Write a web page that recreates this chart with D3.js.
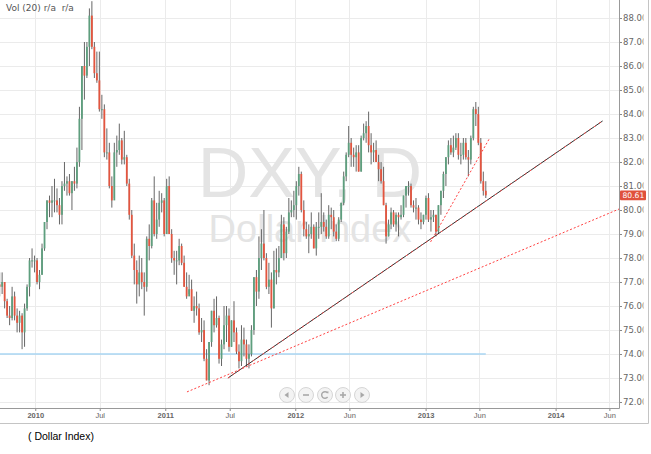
<!DOCTYPE html>
<html><head><meta charset="utf-8">
<script src="https://cdnjs.cloudflare.com/ajax/libs/d3/7.8.5/d3.min.js"></script>
<style>
html,body{margin:0;padding:0;background:#fff;}
svg{display:block;font-family:"Liberation Sans",Arial,sans-serif;}
</style></head><body>
<svg id="c" width="651" height="454"></svg>
<script>
// ---- DATA (weekly candles; [high, low, close]) ----
const firstWeek = "2009-09-21";
const firstOpen = 76.9;
const hlc2009 = [[77.4,76.4,76.8],[77.4,76.5,77.0],[77.0,75.9,76.2],[76.3,75.5,75.6],[76.0,75.2,75.5],[76.8,75.4,76.4],[76.6,75.4,75.6],[75.9,74.9,75.3],[75.8,74.9,75.6],[75.7,74.2,74.9],[76.1,74.3,75.9],[76.9,75.8,76.8],[78.0,76.4,77.9],[78.4,77.6,77.9],[78.1,77.4,77.9]];
const hlc2010 = [[78.0,76.9,77.0],[77.5,76.7,77.3],[78.6,77.3,78.4],[79.5,78.3,79.5],[80.4,79.2,80.4],[80.6,79.7,80.3],[81.0,79.7,80.4],[81.3,79.9,80.4],[80.9,79.9,80.2],[80.5,79.4,79.8],[81.2,79.4,81.0],[82.0,80.8,81.1],[81.4,80.6,81.2],[81.5,80.6,80.7],[81.2,80.0,81.2],[81.8,80.8,81.1],[82.6,80.9,82.0],[84.3,81.8,83.8],[86.0,82.5,86.0],[87.0,84.6,85.6],[87.0,85.5,86.8],[88.4,86.0,88.1],[88.7,86.7,86.8],[87.0,85.5,85.7],[86.6,85.3,85.4],[86.6,84.1,84.2],[84.8,83.8,84.2],[84.4,82.2,82.4],[83.4,82.1,82.4],[82.8,80.9,81.0],[81.4,80.1,80.4],[82.8,80.5,82.4],[83.1,81.8,82.5],[83.6,82.3,82.9],[83.0,81.9,82.1],[83.3,81.9,82.2],[82.3,81.0,81.1],[81.3,79.6,79.8],[80.0,78.0,78.1],[78.6,76.9,77.5],[77.9,76.1,76.9],[78.1,76.4,77.4],[78.0,76.7,77.0],[77.4,75.6,76.8],[78.9,76.6,78.8],[79.4,77.9,78.5],[80.5,78.4,80.4],[81.4,78.9,79.0],[80.3,78.8,79.6],[80.8,79.3,80.3],[80.7,79.9,80.4],[80.5,78.9,79.0]];
const hlc2011 = [[81.3,79.0,81.0],[81.4,79.0,79.0],[79.2,77.8,78.0],[78.3,77.3,77.9],[78.3,76.9,77.9],[78.8,77.7,78.5],[78.6,77.7,77.8],[78.1,76.8,76.8],[77.4,76.3,76.4],[77.3,76.5,76.7],[77.1,75.8,75.8],[76.4,75.3,76.0],[76.6,75.6,75.9],[76.1,74.8,74.9],[75.5,74.5,75.0],[75.4,73.7,73.8],[74.2,72.9,72.9],[74.5,72.7,74.5],[75.8,74.3,75.8],[76.3,74.9,75.2],[76.4,75.1,75.5],[75.6,73.6,73.8],[74.6,73.5,74.4],[76.0,74.2,75.2],[76.0,74.5,75.6],[75.9,74.1,74.3],[75.4,74.3,75.4],[76.2,74.5,74.9],[75.1,74.0,74.1],[74.4,73.4,73.7],[75.2,73.5,74.6],[75.1,73.9,74.4],[74.6,73.5,73.8],[74.4,73.4,74.0],[75.2,73.9,75.0],[77.2,74.8,77.2],[77.5,76.0,76.6],[78.9,76.3,78.0],[79.2,77.5,78.6],[80.0,77.9,78.0],[78.2,76.7,76.8],[77.8,76.5,77.1],[77.4,75.1,75.9],[78.3,75.9,77.5],[78.4,76.9,77.4],[78.5,77.2,78.0],[79.8,78.0,79.4],[79.7,77.9,78.2],[79.3,78.0,79.1],[80.5,79.0,79.9],[80.4,79.7,80.0],[80.8,79.7,80.2]];
const hlc2012 = [[81.2,79.6,81.0],[81.8,80.6,81.5],[81.6,79.9,80.0],[80.4,78.9,79.2],[79.5,78.8,78.9],[79.4,78.2,79.0],[79.9,78.8,79.3],[79.4,78.4,78.4],[79.5,78.1,79.3],[79.9,78.8,79.3],[80.7,79.0,79.5],[79.9,79.1,79.3],[79.6,78.8,78.9],[80.2,78.8,79.8],[80.1,79.2,79.7],[80.0,78.9,79.1],[79.4,78.7,78.8],[79.7,78.7,79.6],[80.3,79.5,80.3],[81.6,80.2,81.4],[82.4,81.2,82.3],[83.5,82.2,82.8],[83.0,81.8,82.3],[82.6,81.8,82.2],[82.7,81.6,82.4],[82.7,81.6,81.6],[83.1,81.6,83.0],[83.6,82.9,83.2],[83.7,82.8,83.5],[84.1,82.4,82.7],[83.2,81.9,82.4],[82.8,82.0,82.5],[82.9,82.0,82.0],[82.3,81.2,81.7],[82.0,81.1,81.2],[81.8,80.2,80.2],[80.3,78.6,78.9],[79.6,78.9,79.4],[80.1,79.2,79.9],[80.0,79.3,79.4],[79.9,79.1,79.8],[79.9,78.9,79.7],[80.2,79.6,79.8],[80.6,79.7,80.6],[81.0,80.1,81.0],[81.2,80.6,81.0],[81.1,80.1,80.2],[80.4,79.9,80.1],[80.5,79.6,80.1],[80.2,79.4,79.6],[79.9,79.2,79.5],[79.8,79.4,79.8],[80.6,79.6,80.5]];
const hlc2013 = [[80.7,79.5,79.6],[80.0,79.1,79.7],[80.0,79.5,79.8],[79.8,78.9,79.1],[80.2,79.0,80.2],[80.8,79.8,80.8],[81.6,80.5,81.5],[82.2,81.0,82.2],[82.9,81.9,82.7],[83.0,82.3,82.4],[83.1,82.2,82.6],[83.2,82.5,83.0],[83.2,82.1,82.3],[82.8,81.9,82.3],[83.0,82.1,82.8],[83.0,82.1,82.2],[82.5,81.4,82.1],[83.1,81.9,83.0],[84.3,82.9,84.2],[84.5,83.5,84.0],[84.3,82.7,82.8],[83.0,81.1,81.2],[81.6,80.6,80.8],[81.2,80.5,80.61]];

const yTicks = [72,73,74,75,76,77,78,79,80,81,82,83,84,85,86,87,88];
const xTickDates = ["2010-01-01","2010-07-01","2011-01-01","2011-07-01","2012-01-01","2012-06-01","2013-01-01","2013-06-01","2014-01-01","2014-06-01"];
const xTickLabels = ["2010","Jul","2011","Jul","2012","Jun","2013","Jun","2014","Jun"];
const lastPrice = 80.61;
const supportLevel = 74.0;
const trendBlack = [["2011-06-26",73.0],["2014-05-13",83.71]];
const trendRedLow = [["2011-03-03",72.42],["2014-06-28",80.04]];
const trendRedSteep = [["2013-01-15",78.67],["2013-06-30",83.0]];
const symbolName = "DXY, D";
const symbolDesc = "Dollar Index";
const titleText = "( Dollar Index)";
const volText = "Vol (20) r/a  r/a";

// ---- BUILD ----
const parse = d3.utcParse("%Y-%m-%d");
const all = [].concat(hlc2009, hlc2010, hlc2011, hlc2012, hlc2013);
const w0 = parse(firstWeek);
let prev = firstOpen;
const candles = all.map((r, i) => {
  const d = { date: d3.utcDay.offset(d3.utcMonday.offset(w0, i), 2), open: prev, high: r[0], low: r[1], close: r[2] };
  prev = r[2];
  return d;
});

const svg = d3.select("#c");
const plotR = 619, axisY = 408;
const x = d3.scaleUtc().domain([parse("2009-09-24"), parse("2014-06-28")]).range([0, plotR]);
const y = d3.scaleLinear().domain([72, 88]).range([402, 18]);

const defs = svg.append("defs");
defs.append("clipPath").attr("id","plot").append("rect").attr("x",0).attr("y",0).attr("width",plotR).attr("height",axisY);
defs.append("clipPath").attr("id","lab").append("rect").attr("x",0).attr("y",0).attr("width",24.5).attr("height",axisY+4);

// grid
const grid = svg.append("g");
grid.selectAll("line.h").data(yTicks).join("line")
  .attr("x1",0).attr("x2",plotR).attr("y1",d=>Math.round(y(d))+0.5).attr("y2",d=>Math.round(y(d))+0.5)
  .attr("stroke","#ebebeb");
grid.selectAll("line.v").data(xTickDates).join("line")
  .attr("x1",d=>Math.round(x(parse(d)))+0.5).attr("x2",d=>Math.round(x(parse(d)))+0.5).attr("y1",0).attr("y2",axisY)
  .attr("stroke","#ebebeb");

// watermark
svg.append("text").attr("x",310).attr("y",197).attr("text-anchor","middle")
  .attr("font-size",70).attr("fill","#e4e4e4").text(symbolName);
svg.append("text").attr("x",310).attr("y",242).attr("text-anchor","middle")
  .attr("font-size",38).attr("fill","#e4e4e4").text(symbolDesc);

const plot = svg.append("g").attr("clip-path","url(#plot)");

// support line
plot.append("line").attr("x1",0).attr("x2",x(candles[candles.length-1].date))
  .attr("y1",y(supportLevel)).attr("y2",y(supportLevel))
  .attr("stroke","#a9d6f3").attr("stroke-width",1.5);

// candles
const cg = plot.append("g");
cg.selectAll("line").data(candles).join("line")
  .attr("x1",d=>x(d.date)).attr("x2",d=>x(d.date))
  .attr("y1",d=>y(d.high)).attr("y2",d=>y(d.low))
  .attr("stroke","#666").attr("stroke-width",1);
cg.selectAll("rect").data(candles).join("rect")
  .attr("x",d=>x(d.date)-0.9).attr("width",1.8)
  .attr("y",d=>y(Math.max(d.open,d.close)))
  .attr("height",d=>Math.max(1, Math.abs(y(d.open)-y(d.close))))
  .attr("fill",d=>d.close>=d.open ? "#5e9f7e" : "#e4553f");

// trend lines
const lineGen = d3.line().x(d=>x(parse(d[0]))).y(d=>y(d[1]));
plot.append("path").attr("d",lineGen(trendBlack)).attr("fill","none").attr("stroke","#2e2e2e").attr("stroke-width",1);
plot.append("path").attr("d",lineGen(trendBlack)).attr("fill","none").attr("stroke","#ff4a4a").attr("stroke-width",1).attr("stroke-dasharray","2,4");
plot.append("path").attr("d",lineGen(trendRedLow)).attr("fill","none").attr("stroke","#ff4040").attr("stroke-width",1).attr("stroke-dasharray","2,2");
plot.append("path").attr("d",lineGen(trendRedSteep)).attr("fill","none").attr("stroke","#ff4040").attr("stroke-width",1).attr("stroke-dasharray","2,2");

// axes
const yAx = svg.append("g").attr("transform",`translate(${plotR},0)`).attr("clip-path","url(#lab)")
  .call(d3.axisRight(y).tickValues(yTicks).tickFormat(d3.format(".2f")).tickSize(3).tickPadding(1));
yAx.select(".domain").remove();
yAx.selectAll("line").attr("stroke","#888");
yAx.selectAll("text").attr("font-family","'DejaVu Sans',sans-serif").attr("font-size",8.5).attr("fill","#666");

const xAx = svg.append("g").attr("transform",`translate(0,${axisY})`)
  .call(d3.axisBottom(x).tickValues(xTickDates.map(parse)).tickFormat((d,i)=>xTickLabels[i]).tickSize(3).tickPadding(2));
xAx.select(".domain").remove();
xAx.selectAll("line").attr("stroke","#888");
xAx.selectAll("text").attr("font-size",7.5).attr("fill","#666")
  .attr("font-weight",(d,i)=>/^\d/.test(xTickLabels[i]) ? "bold" : "normal");

svg.append("line").attr("x1",0).attr("x2",plotR+0.5).attr("y1",axisY+0.5).attr("y2",axisY+0.5).attr("stroke","#999");
svg.append("line").attr("x1",plotR+0.5).attr("x2",plotR+0.5).attr("y1",0).attr("y2",axisY+0.5).attr("stroke","#999");

// frame
svg.append("line").attr("x1",0).attr("x2",648.5).attr("y1",423.5).attr("y2",423.5).attr("stroke","#c4c4c4");
svg.append("line").attr("x1",648.5).attr("x2",648.5).attr("y1",0).attr("y2",423.5).attr("stroke","#c4c4c4");

// last price label
const ly = y(lastPrice);
svg.append("rect").attr("x",620).attr("y",ly-4.8).attr("width",26).attr("height",9.6).attr("rx",1).attr("fill","#e0513c");
svg.append("text").attr("x",622.5).attr("y",ly+2.8).attr("font-family","'DejaVu Sans',sans-serif").attr("font-size",7.6).attr("fill","#fff").text(d3.format(".2f")(lastPrice));

// vol text
svg.append("text").attr("x",6).attr("y",11).attr("font-family","'DejaVu Sans',sans-serif").attr("font-size",9)
  .attr("fill","#555").style("white-space","pre").text(volText);

// nav buttons
const navX = [287,306,325,343,362];
const nav = svg.append("g");
navX.forEach((cx,i)=>{
  const g = nav.append("g").attr("transform",`translate(${cx},395)`);
  g.append("circle").attr("r",7.5).attr("fill","#f3f3f3").attr("stroke","#d6d6d6");
  const c = "#a8a8a8";
  if(i===0) g.append("path").attr("d","M-2.5,0L1.5,-3L1.5,3Z").attr("fill",c);
  if(i===1) g.append("rect").attr("x",-3).attr("y",-0.8).attr("width",6).attr("height",1.6).attr("fill",c);
  if(i===2){ g.append("path").attr("d","M2.6,-2A3.3,3.3 0 1 0 2.6,2").attr("fill","none").attr("stroke",c).attr("stroke-width",1.4);
             g.append("path").attr("d","M1.2,-3.6L3.6,-3.6L3.2,-1.2Z").attr("fill",c); }
  if(i===3){ g.append("rect").attr("x",-3).attr("y",-0.8).attr("width",6).attr("height",1.6).attr("fill",c);
             g.append("rect").attr("x",-0.8).attr("y",-3).attr("width",1.6).attr("height",6).attr("fill",c); }
  if(i===4) g.append("path").attr("d","M2.5,0L-1.5,-3L-1.5,3Z").attr("fill",c);
});

// title
svg.append("text").attr("x",28).attr("y",440).attr("font-size",10.5).attr("fill","#000").text(titleText);
</script>
</body></html>
